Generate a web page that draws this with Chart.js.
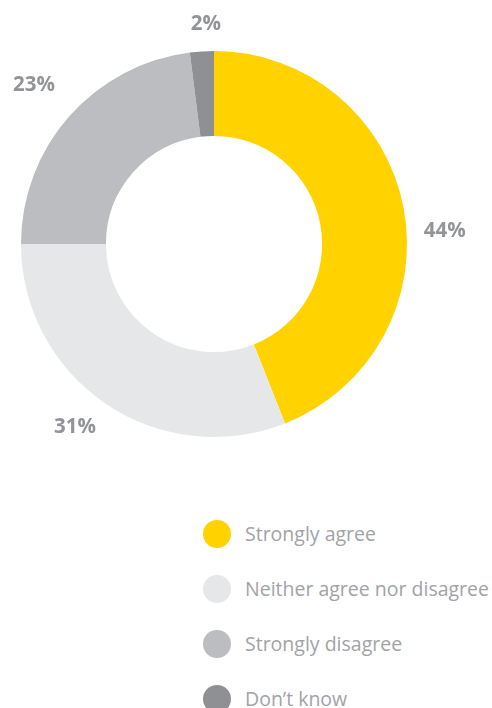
<!DOCTYPE html>
<html>
<head>
<meta charset="utf-8">
<script src="https://cdn.jsdelivr.net/npm/chart.js@4"></script>
<style>
  html, body { margin: 0; padding: 0; background: #fff; width: 492px; height: 708px; overflow: hidden; }
  #wrap { position: absolute; left: 0; top: 0; width: 492px; height: 470px; }
  #legend { position: absolute; left: 203px; top: 520px; margin: 0; padding: 0; list-style: none;
            font-family: "Open Sans", sans-serif; font-weight: 400; font-size: 19.5px; color: #a2a3a6; }
  #legend li { height: 55px; display: flex; align-items: flex-start; white-space: nowrap; }
  #legend .dot { width: 28px; height: 28px; border-radius: 50%; margin-right: 14px; flex: none; }
  #legend .txt { line-height: 28px; }
</style>
</head>
<body>
<div id="wrap"><canvas id="c" width="492" height="470"></canvas></div>
<ul id="legend"></ul>
<script>
const categories = ["Strongly agree", "Neither agree nor disagree", "Strongly disagree", "Don\u2019t know"];
const shares = [44, 31, 23, 2];
const sliceColors = ["#FFD200", "#E6E7E8", "#BCBDC0", "#8F9094"];

// Percentage labels placed outside the ring along each slice's mid angle
const outerLabels = {
  id: "outerLabels",
  afterDatasetsDraw(chart, args, opts) {
    const ctx = chart.ctx;
    const meta = chart.getDatasetMeta(0);
    ctx.save();
    ctx.font = opts.font;
    ctx.fillStyle = opts.color;
    ctx.textAlign = "center";
    ctx.textBaseline = "middle";
    meta.data.forEach((arc, i) => {
      const p = arc.getProps(["x", "y", "startAngle", "endAngle", "outerRadius"], true);
      const mid = (p.startAngle + p.endAngle) / 2 + (opts.angleNudge[i] || 0) * Math.PI / 180;
      const r = p.outerRadius + (opts.gap[i] || 0);
      ctx.fillText(shares[i] + "%", p.x + Math.cos(mid) * r, p.y + Math.sin(mid) * r);
    });
    ctx.restore();
  }
};

new Chart(document.getElementById("c"), {
  type: "doughnut",
  data: {
    labels: categories,
    datasets: [{ data: shares, backgroundColor: sliceColors, borderWidth: 0, hoverOffset: 0 }]
  },
  options: {
    responsive: false,
    animation: false,
    cutout: "56%",
    layout: { padding: { left: 21, top: 51, right: 85, bottom: 33 } },
    plugins: {
      legend: { display: false },
      tooltip: { enabled: false },
      outerLabels: {
        font: "bold 20.5px 'Open Sans', sans-serif",
        color: "#939497",
        angleNudge: [7.6, 3, 0, 1.5],
        gap: [38, 37, 47, 27]
      }
    }
  },
  plugins: [outerLabels]
});

// HTML legend built from the same categories and colours
const legend = document.getElementById("legend");
categories.forEach((name, i) => {
  const li = document.createElement("li");
  li.innerHTML = '<span class="dot" style="background:' + sliceColors[i] + '"></span><span class="txt">' + name + '</span>';
  legend.appendChild(li);
});
</script>
</body>
</html>
